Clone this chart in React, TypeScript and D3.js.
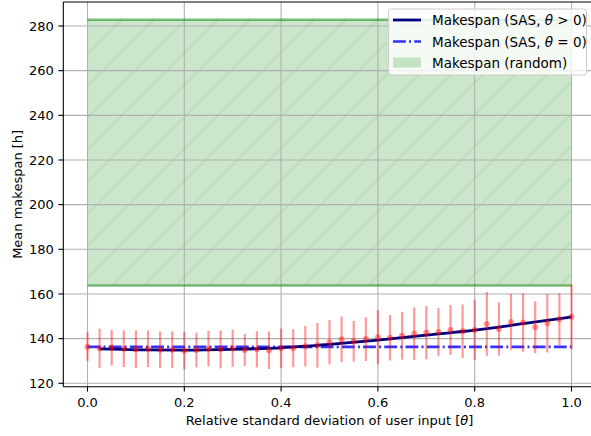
import React, { useEffect, useRef } from 'react'
import * as d3 from 'd3'

// relative std of user input
const thetas = [
  0.0, 0.025, 0.05, 0.075, 0.1, 0.125, 0.15, 0.175, 0.2, 0.225,
  0.25, 0.275, 0.3, 0.325, 0.35, 0.375, 0.4, 0.425, 0.45, 0.475,
  0.5, 0.525, 0.55, 0.575, 0.6, 0.625, 0.65, 0.675, 0.7, 0.725,
  0.75, 0.775, 0.8, 0.825, 0.85, 0.875, 0.9, 0.925, 0.95, 0.975, 1.0,
]
const meanMakespan = [
  136.4, 135.7, 136.0, 135.5, 135.2, 135.5, 135.0, 135.0, 134.6, 134.9,
  135.5, 135.2, 135.7, 134.9, 135.2, 134.8, 135.7, 135.7, 136.6, 137.0,
  138.4, 139.7, 138.8, 139.8, 140.6, 140.4, 141.3, 142.2, 142.7, 143.0,
  143.9, 143.3, 143.9, 146.6, 144.3, 147.5, 147.2, 145.1, 146.9, 148.7, 149.8,
]
const stdMakespan = [
  6.4, 8.8, 8.0, 8.2, 8.4, 8.2, 8.2, 8.2, 8.4, 7.7,
  8.0, 8.5, 8.3, 7.2, 8.1, 8.4, 8.8, 8.5, 9.1, 10.0,
  9.9, 10.2, 9.1, 9.8, 12.1, 10.2, 10.7, 11.7, 11.9, 10.7,
  11.2, 12.0, 13.4, 14.3, 11.9, 12.5, 13.1, 11.6, 13.1, 11.6, 14.5,
]
// smooth fit for theta > 0
const fitThetas = [0.025, 0.1, 0.2, 0.3, 0.4, 0.5, 0.6, 0.7, 0.8, 0.9, 1.0]
const fitMakespan = [135.4, 135.0, 134.9, 135.2, 135.9, 137.4, 139.3, 141.6, 143.8, 146.7, 149.7]
const sasZero = 136.3
const randomLow = 163.8
const randomHigh = 282.8
const xTicks = [0, 0.2, 0.4, 0.6, 0.8, 1.0]
const yTicks = [120, 140, 160, 180, 200, 220, 240, 260, 280]
const legendLabels = ['Makespan (SAS, θ > 0)', 'Makespan (SAS, θ = 0)', 'Makespan (random)']

const W = 591, H = 436
const font = 'DejaVu Sans, sans-serif'
const fs = 13

const App = () => {
  const ref = useRef<SVGSVGElement>(null)

  useEffect(() => {
    const svg = d3.select(ref.current)
    svg.selectAll('*').remove()

    const x = d3.scaleLinear().domain([-0.05, 1.05]).range([63.3, 595.7])
    const y = d3.scaleLinear().domain([118.48, 290.75]).range([386.7, 2])
    const left = 63.3, right = 595.7, top = 2, bottom = 386.7

    const defs = svg.append('defs')
    const pat = defs.append('pattern')
      .attr('id', 'hatch')
      .attr('patternUnits', 'userSpaceOnUse')
      .attr('width', 32).attr('height', 32)
      .attr('patternTransform', 'translate(13.7,0)')
    ;[[-32, 32, 0, 0], [0, 32, 32, 0], [32, 32, 64, 0]].forEach(([x1, y1, x2, y2]) => {
      pat.append('line')
        .attr('x1', x1).attr('y1', y1).attr('x2', x2).attr('y2', y2)
        .attr('stroke', 'green').attr('stroke-opacity', 0.2).attr('stroke-width', 1)
    })

    // random band
    const bx0 = x(0), bx1 = x(1), by0 = y(randomHigh), by1 = y(randomLow)
    svg.append('rect')
      .attr('x', bx0).attr('y', by0).attr('width', bx1 - bx0).attr('height', by1 - by0)
      .attr('fill', 'green').attr('fill-opacity', 0.2)
    svg.append('rect')
      .attr('x', bx0).attr('y', by0).attr('width', bx1 - bx0).attr('height', by1 - by0)
      .attr('fill', 'url(#hatch)')

    // grid
    const grid = svg.append('g').attr('stroke', '#b0b0b0').attr('stroke-width', 1.1)
    xTicks.forEach(t => grid.append('line').attr('x1', x(t)).attr('x2', x(t)).attr('y1', top).attr('y2', bottom))
    yTicks.forEach(t => grid.append('line').attr('x1', left).attr('x2', right).attr('y1', y(t)).attr('y2', y(t)))

    // band edges
    ;[randomLow, randomHigh].forEach(v => {
      svg.append('line')
        .attr('x1', bx0).attr('x2', bx1).attr('y1', y(v)).attr('y2', y(v))
        .attr('stroke', 'green').attr('stroke-opacity', 0.5).attr('stroke-width', 2.6)
    })

    // SAS theta = 0
    svg.append('line')
      .attr('x1', x(0)).attr('x2', x(1)).attr('y1', y(sasZero)).attr('y2', y(sasZero))
      .attr('stroke', 'blue').attr('stroke-opacity', 0.8).attr('stroke-width', 2.6)
      .attr('stroke-dasharray', '12.8,3.2,2,3.2')

    // SAS theta > 0 fit
    const line = d3.line<number>()
      .x((_, i) => x(fitThetas[i]))
      .y(d => y(d))
      .curve(d3.curveMonotoneX)
    svg.append('path')
      .attr('d', line(fitMakespan))
      .attr('fill', 'none').attr('stroke', 'navy').attr('stroke-width', 2.8)

    // error bars
    const eb = svg.append('g')
    thetas.forEach((t, i) => {
      const m = meanMakespan[i], s = stdMakespan[i]
      eb.append('line')
        .attr('x1', x(t)).attr('x2', x(t)).attr('y1', y(m - s)).attr('y2', y(m + s))
        .attr('stroke', 'red').attr('stroke-opacity', 0.4).attr('stroke-width', 2.2)
      eb.append('circle')
        .attr('cx', x(t)).attr('cy', y(m)).attr('r', 3)
        .attr('fill', 'red').attr('fill-opacity', 0.4)
    })

    // spines
    svg.append('line').attr('x1', left).attr('x2', left).attr('y1', top).attr('y2', bottom)
      .attr('stroke', 'black').attr('stroke-width', 1.1)
    svg.append('line').attr('x1', left).attr('x2', right).attr('y1', bottom).attr('y2', bottom)
      .attr('stroke', 'black').attr('stroke-width', 1.1)
    svg.append('line').attr('x1', left).attr('x2', right).attr('y1', top).attr('y2', top)
      .attr('stroke', 'black').attr('stroke-width', 1.1)

    // ticks
    const ax = svg.append('g').attr('font-family', font).attr('font-size', fs).attr('fill', '#000')
    xTicks.forEach(t => {
      ax.append('line').attr('x1', x(t)).attr('x2', x(t)).attr('y1', bottom).attr('y2', bottom + 4.9)
        .attr('stroke', 'black').attr('stroke-width', 1.1)
      ax.append('text').attr('x', x(t)).attr('y', 406.5).attr('text-anchor', 'middle')
        .text(d3.format('.1f')(t))
    })
    yTicks.forEach(t => {
      ax.append('line').attr('x1', left).attr('x2', left - 4.9).attr('y1', y(t)).attr('y2', y(t))
        .attr('stroke', 'black').attr('stroke-width', 1.1)
      ax.append('text').attr('x', left - 9.5).attr('y', y(t) + 4.7).attr('text-anchor', 'end')
        .text(t)
    })

    // axis labels
    const xl = ax.append('text').attr('x', (left + right) / 2).attr('y', 425).attr('text-anchor', 'middle')
    xl.append('tspan').text('Relative standard deviation of user input [')
    xl.append('tspan').attr('font-style', 'italic').text('θ')
    xl.append('tspan').text(']')
    ax.append('text')
      .attr('transform', `translate(21.5,${(top + bottom) / 2}) rotate(-90)`)
      .attr('text-anchor', 'middle')
      .text('Mean makespan [h]')

    // legend
    const lg = svg.append('g')
    lg.append('rect')
      .attr('x', 388.5).attr('y', 9).attr('width', 198).attr('height', 66).attr('rx', 3)
      .attr('fill', 'white').attr('fill-opacity', 0.8).attr('stroke', '#cccccc').attr('stroke-width', 1)
    const rows = [20, 41.5, 62.5]
    lg.append('line').attr('x1', 393).attr('x2', 421).attr('y1', rows[0]).attr('y2', rows[0])
      .attr('stroke', 'navy').attr('stroke-width', 2.8)
    lg.append('line').attr('x1', 393).attr('x2', 421).attr('y1', rows[1]).attr('y2', rows[1])
      .attr('stroke', 'blue').attr('stroke-opacity', 0.8).attr('stroke-width', 2.6)
      .attr('stroke-dasharray', '12.8,3.2,2,3.2')
    lg.append('rect').attr('x', 393).attr('y', rows[2] - 5).attr('width', 28).attr('height', 10)
      .attr('fill', 'green').attr('fill-opacity', 0.2)
    legendLabels.forEach((lab, i) => {
      const tx = lg.append('text').attr('x', 432).attr('y', rows[i] + 5)
        .attr('font-family', font).attr('font-size', 13.5)
      const parts = lab.split('θ')
      tx.append('tspan').text(parts[0])
      if (parts.length > 1) {
        tx.append('tspan').attr('font-style', 'italic').text('θ')
        tx.append('tspan').text(parts[1])
      }
    })
  }, [])

  return (
    <div style={{ position: 'absolute', left: 0, top: 0 }}>
      <svg ref={ref} width={W} height={H} style={{ display: 'block', background: 'white' }} />
    </div>
  )
}

export default App
